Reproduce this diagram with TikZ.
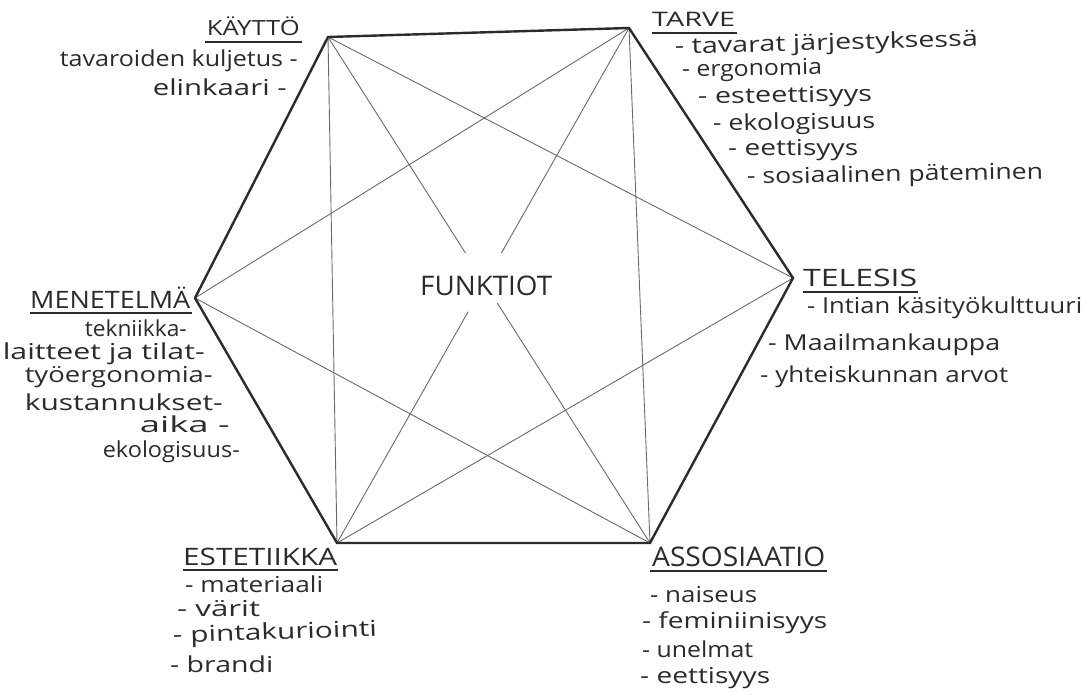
\documentclass[tikz,border=0pt]{standalone}
\usepackage{fontspec}
\setmainfont{Open Sans}
\usetikzlibrary{calc}
\definecolor{ink}{HTML}{2B2B2B}
\definecolor{thinline}{HTML}{6A6A6A}
\newcommand{\fitw}[2]{\resizebox{#1pt}{\height}{#2}}
\begin{document}
\begin{tikzpicture}[x=1pt,y=-1pt,
  hexedge/.style={draw=ink, line width=2.4pt, line join=miter},
  innerln/.style={draw=thinline, line width=0.9pt},
  head/.style={inner sep=0pt, text=ink, font=\fontsize{#1}{#1}\selectfont},
  itm/.style={inner sep=0pt, text=ink, font=\fontsize{22}{24}\selectfont},
  uline/.style={draw=ink, line width=1.3pt}]
\useasboundingbox[fill=white] (0,0) rectangle (1087,695);

% hexagon corners
\coordinate (TL) at (328,37);
\coordinate (TR) at (629,28);
\coordinate (R)  at (793,278);
\coordinate (BR) at (650,543);
\coordinate (BL) at (337,543);
\coordinate (L)  at (195,298);

% inner lines
\draw[innerln] (TL) -- (BL);
\draw[innerln] (TR) -- (BR);
\draw[innerln] (TL) -- (R);
\draw[innerln] (TR) -- (L);
\draw[innerln] (L) -- (BR);
\draw[innerln] (R) -- (BL);
\coordinate (g1) at ($(TL)!0.427!(BR)$);
\coordinate (g2) at ($(TL)!0.526!(BR)$);
\coordinate (g3) at ($(TR)!0.437!(BL)$);
\coordinate (g4) at ($(TR)!0.551!(BL)$);
\draw[innerln] (TL) -- (g1);
\draw[innerln] (g2) -- (BR);
\draw[innerln] (TR) -- (g3);
\draw[innerln] (g4) -- (BL);

% hexagon
\draw[hexedge] (TL) -- (TR) -- (R) -- (BR) -- (BL) -- (L) -- cycle;

% centre
\node[head=27, anchor=base west] (funk) at (420,295) {\fitw{132}{FUNKTIOT}};

% KAYTTO
\node[head=21, anchor=base east] (kaytto) at (300,36) {\fitw{93}{KÄYTTÖ}};
\draw[uline] ($(kaytto.base west)+(-2,6)$) -- ($(kaytto.base east)+(2,6)$);
\node[itm, anchor=base east] (k1) at (298,67) {\fitw{238}{tavaroiden kuljetus -}};
\node[itm, anchor=base east] (k2) at (287,96) {\fitw{134}{elinkaari -}};

% TARVE
\node[head=20, anchor=base west] (tarve) at (652,27) {\fitw{83}{TARVE}};
\draw[uline] ($(tarve.base west)+(0,6)$) -- ($(tarve.base east)+(2,6)$);
\node[itm, anchor=base west, rotate=1.5] (t1) at (675,54) {\fitw{303}{- tavarat järjestyksessä}};
\node[itm, anchor=base west, rotate=1] (t2) at (682,77) {\fitw{140}{- ergonomia}};
\node[itm, anchor=base west, rotate=1] (t3) at (698,104) {\fitw{174}{- esteettisyys}};
\node[itm, anchor=base west, rotate=1] (t4) at (713,131) {\fitw{162}{- ekologisuus}};
\node[itm, anchor=base west] (t5) at (728,156) {\fitw{130}{- eettisyys}};
\node[itm, anchor=base west, rotate=1] (t6) at (747,184) {\fitw{296}{- sosiaalinen päteminen}};

% MENETELMA
\node[head=24, anchor=base west] (men) at (30,308) {\fitw{160}{MENETELMÄ}};
\draw[uline] ($(men.base west)+(0,5)$) -- ($(men.base east)+(2,5)$);
\node[itm, anchor=base east] (m1) at (187,336) {\fitw{102}{tekniikka-}};
\node[itm, anchor=base east] (m2) at (205,359) {\fitw{202}{laitteet ja tilat-}};
\node[itm, anchor=base east] (m3) at (213,382) {\fitw{188}{työergonomia-}};
\node[itm, anchor=base east] (m4) at (223,410) {\fitw{198}{kustannukset-}};
\node[itm, anchor=base east] (m5) at (230,432) {\fitw{90}{aika -}};
\node[itm, anchor=base east] (m6) at (240,457) {\fitw{137}{ekologisuus-}};

% TELESIS
\node[head=24, anchor=base west] (tel) at (803,287) {\fitw{114}{TELESIS}};
\draw[uline] ($(tel.base west)+(0,5)$) -- ($(tel.base east)+(1,5)$);
\node[itm, anchor=base west] (e1) at (807,313) {\fitw{275}{- Intian käsityökulttuuri}};
\node[itm, anchor=base west] (e2) at (768,350) {\fitw{232}{- Maailmankauppa}};
\node[itm, anchor=base west] (e3) at (760,382) {\fitw{248}{- yhteiskunnan arvot}};

% ESTETIIKKA
\node[head=24, anchor=base west] (est) at (183,565) {\fitw{154}{ESTETIIKKA}};
\draw[uline] ($(est.base west)+(0,5)$) -- ($(est.base east)+(1,5)$);
\node[itm, anchor=base west] (s1) at (185,592) {\fitw{138}{- materiaali}};
\node[itm, anchor=base west] (s2) at (177,616) {\fitw{83}{- värit}};
\node[itm, anchor=base west, rotate=2] (s3) at (173,643) {\fitw{204}{- pintakuriointi}};
\node[itm, anchor=base west] (s4) at (170,672) {\fitw{103}{- brandi}};

% ASSOSIAATIO
\node[head=27, anchor=base west] (ass) at (652,566) {\fitw{173}{ASSOSIAATIO}};
\draw[uline] ($(ass.base west)+(-2,5)$) -- ($(ass.base east)+(2,5)$);
\node[itm, anchor=base west] (a1) at (650,602) {\fitw{107}{- naiseus}};
\node[itm, anchor=base west] (a2) at (642,628) {\fitw{185}{- feminiinisyys}};
\node[itm, anchor=base west] (a3) at (642,657) {\fitw{111}{- unelmat}};
\node[itm, anchor=base west] (a4) at (640,683) {\fitw{130}{- eettisyys}};
\end{tikzpicture}
\end{document}
